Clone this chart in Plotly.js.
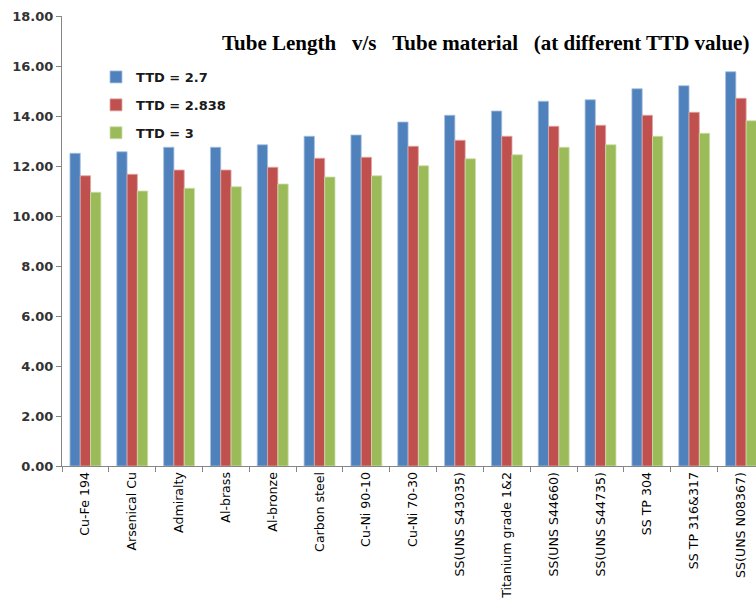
<!DOCTYPE html>
<html>
<head>
<meta charset="utf-8">
<script src="https://cdn.plot.ly/plotly-3.0.1.min.js"></script>
<style>
  html, body { margin: 0; padding: 0; background: #ffffff; }
  #chart { width: 756px; height: 605px; }
</style>
</head>
<body>
<div id="chart"></div>
<script>
// Tube materials along the x axis
const materials = [
  "Cu-Fe 194", "Arsenical Cu", "Admiralty", "Al-brass", "Al-bronze",
  "Carbon steel", "Cu-Ni 90-10", "Cu-Ni 70-30", "SS(UNS S43035)",
  "Titanium grade 1&2", "SS(UNS S44660)", "SS(UNS S44735)", "SS TP 304",
  "SS TP 316&317", "SS(UNS N08367)"
];

// Tube length for each TTD value
const ttd27 = [12.51, 12.57, 12.75, 12.75, 12.85, 13.19, 13.24, 13.76, 14.03,
               14.20, 14.59, 14.65, 15.09, 15.21, 15.77];
const ttd2838 = [11.61, 11.67, 11.84, 11.84, 11.95, 12.31, 12.35, 12.79, 13.03,
                 13.19, 13.59, 13.63, 14.03, 14.15, 14.71];
const ttd3 = [10.95, 11.00, 11.11, 11.17, 11.28, 11.56, 11.61, 12.01, 12.29,
              12.45, 12.75, 12.85, 13.19, 13.31, 13.81];

const seriesNames = ["TTD = 2.7", "TTD = 2.838", "TTD = 3"];
const yTicks = [0, 2, 4, 6, 8, 10, 12, 14, 16, 18];

const colors = ["#4F81BD", "#C0504D", "#9BBB59"];
const edges = ["#A7C0DE", "#E0A8A6", "#CDDDAC"];

const traces = [ttd27, ttd2838, ttd3].map((vals, i) => ({
  type: "bar",
  name: seriesNames[i],
  x: materials,
  y: vals,
  legendgroup: "g" + i,
  marker: { color: colors[i], line: { color: edges[i], width: 0.8 } },
  hoverinfo: "x+y+name"
}));

const labelFamily = "DejaVu Sans, Arial, sans-serif";

const layout = {
  width: 756,
  height: 605,
  margin: { l: 62, r: 0, t: 16, b: 139 },
  paper_bgcolor: "#ffffff",
  plot_bgcolor: "#ffffff",
  barmode: "group",
  bargap: 0.34,
  bargroupgap: 0,
  title: {
    text: "<b>Tube Length\u00A0\u00A0\u00A0v/s\u00A0\u00A0\u00A0Tube material\u00A0\u00A0\u00A0(at different TTD value)</b>",
    font: { family: "Liberation Serif, Times New Roman, serif", size: 21, color: "#000000" },
    x: 222 / 756,
    xanchor: "left",
    xref: "container",
    y: 1 - 43 / 605,
    yanchor: "middle",
    yref: "container"
  },
  xaxis: {
    type: "category",
    range: [-0.5, 14.32],
    automargin: false,
    showline: true,
    linecolor: "#868686",
    linewidth: 1,
    ticks: "outside",
    tickson: "boundaries",
    ticklen: 5,
    tickcolor: "#868686",
    tickangle: -90,
    tickfont: { family: labelFamily, size: 12.6, color: "#000000" },
    showgrid: false,
    zeroline: false,
    fixedrange: true
  },
  yaxis: {
    range: [0, 18],
    automargin: false,
    tickvals: yTicks,
    tickformat: ".2f",
    showline: true,
    linecolor: "#868686",
    linewidth: 1,
    ticks: "outside",
    ticklen: 5,
    tickcolor: "#868686",
    tickfont: { family: labelFamily, size: 13, color: "#333333", weight: "bold" },
    showgrid: false,
    zeroline: false,
    fixedrange: true
  },
  showlegend: true,
  legend: {
    x: 34 / 694,
    xanchor: "left",
    y: 1 - (62 - 16) / 450,
    yanchor: "top",
    bgcolor: "rgba(0,0,0,0)",
    traceorder: "grouped",
    tracegroupgap: 8,
    itemwidth: 30,
    font: { family: labelFamily, size: 13, color: "#1a1a1a", weight: "bold" }
  }
};

Plotly.newPlot("chart", traces, layout, { displayModeBar: false, staticPlot: true });
</script>
</body>
</html>
